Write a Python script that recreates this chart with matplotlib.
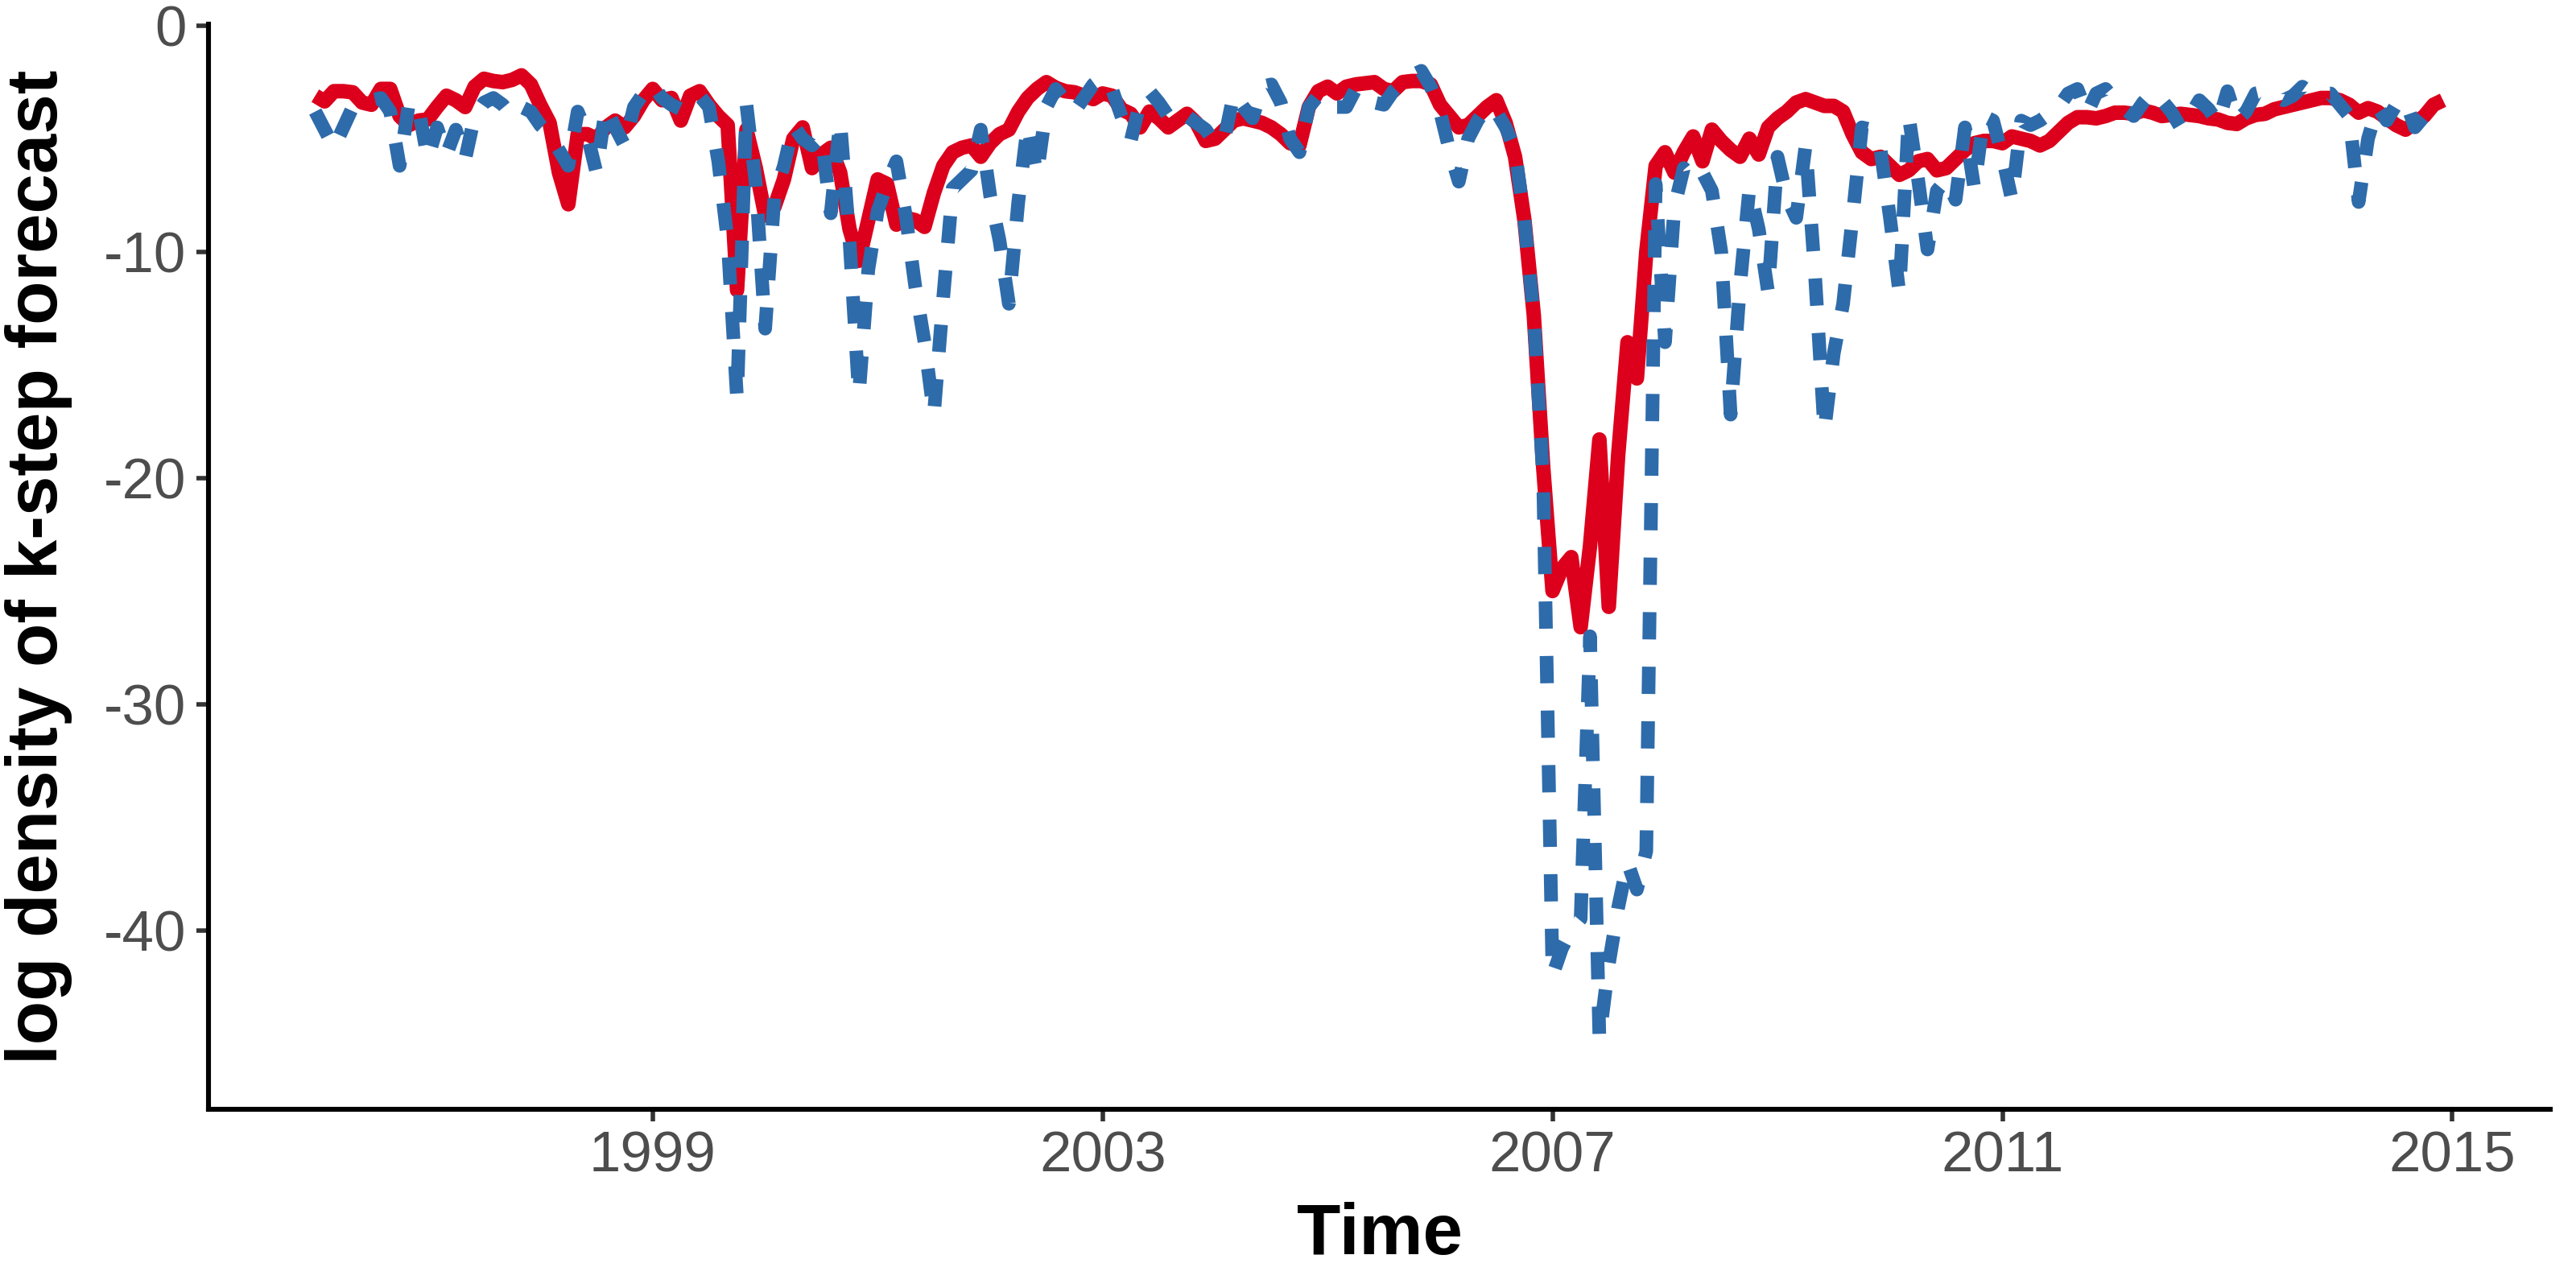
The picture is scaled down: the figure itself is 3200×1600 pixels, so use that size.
#!/usr/bin/env python3
"""
Log density of k-step forecasts over time, two models (solid red vs dashed blue).
Monthly series, Jan 1996 .. Dec 2014, values read off the published figure.
"""

import numpy as np
import matplotlib
matplotlib.use("Agg")
import matplotlib.pyplot as plt
from matplotlib import rcParams

START_YEAR = 1996

# model A (solid red), one value per month
RED = [
    -3.1, -3.35, -2.9, -2.9, -2.95, -3.4, -3.5, -2.8, -2.8, -4.0, -4.4, -4.2,
    -4.15, -3.6, -3.1, -3.3, -3.6, -2.7, -2.35, -2.45, -2.5, -2.4, -2.2, -2.6,
    -3.5, -4.3, -6.5, -7.9, -4.8, -4.8, -5.0, -4.5, -4.2, -4.5, -4.0, -3.3,
    -2.8, -3.3, -3.2, -4.2, -3.1, -2.9, -3.5, -4.0, -4.4, -11.7, -4.6, -6.3,
    -8.4, -8.0, -6.8, -5.0, -4.5, -6.3, -5.7, -5.4, -6.5, -9.0, -10.4, -8.6,
    -6.8, -7.0, -8.8, -8.5, -8.6, -8.9, -7.4, -6.2, -5.6, -5.4, -5.3, -5.8,
    -5.2, -4.8, -4.6, -3.8, -3.2, -2.8, -2.5, -2.75, -2.9, -2.95, -3.1, -3.25,
    -3.0, -3.1, -3.7, -3.9, -4.5, -3.8, -4.1, -4.5, -4.2, -3.9, -4.3, -5.1,
    -5.0, -4.6, -4.2, -4.1, -4.2, -4.3, -4.5, -4.8, -5.2, -5.3, -3.6, -2.9,
    -2.7, -3.0, -2.7, -2.6, -2.55, -2.5, -2.8, -2.9, -2.5, -2.45, -2.45, -2.6,
    -3.5, -4.0, -4.5, -4.4, -4.0, -3.6, -3.3, -4.3, -5.8, -8.6, -12.8, -19.5,
    -25.0, -24.0, -23.5, -26.6, -23.0, -18.3, -25.7, -19.0, -14.0, -15.6, -10.0, -6.2,
    -5.6, -6.5, -5.6, -4.9, -6.0, -4.6, -5.1, -5.5, -5.8, -5.0, -5.7, -4.5,
    -4.1, -3.8, -3.4, -3.25, -3.4, -3.55, -3.55, -3.8, -4.8, -5.6, -5.9, -5.8,
    -6.2, -6.6, -6.4, -6.0, -5.9, -6.4, -6.3, -5.9, -5.5, -5.2, -5.1, -5.1,
    -5.2, -4.9, -5.0, -5.1, -5.3, -5.1, -4.7, -4.3, -4.05, -4.05, -4.1, -4.0,
    -3.85, -3.85, -3.9, -3.75, -3.85, -4.0, -3.95, -3.9, -3.95, -4.0, -4.1, -4.15,
    -4.3, -4.35, -4.1, -3.95, -3.9, -3.7, -3.6, -3.5, -3.4, -3.3, -3.2, -3.2,
    -3.3, -3.5, -3.85, -3.65, -3.8, -4.1, -4.4, -4.6, -4.3, -4.0, -3.5, -3.3,
]

# model B (dashed blue), one value per month
BLUE = [
    -3.8, -4.6, -5.4, -4.5, -3.6, -3.4, -3.3, -3.2, -3.8, -6.2, -3.4, -3.6,
    -5.9, -4.5, -5.7, -4.6, -5.9, -4.0, -3.4, -3.2, -3.5, -4.0, -3.6, -3.8,
    -4.4, -4.8, -5.5, -6.2, -3.8, -4.8, -6.5, -3.6, -4.5, -5.3, -3.6, -3.0,
    -2.6, -3.2, -3.5, -3.7, -3.3, -3.1, -3.6, -6.0, -9.5, -16.5, -3.5, -7.0,
    -13.4, -7.5, -6.2, -4.4, -5.0, -5.3, -4.9, -8.3, -4.2, -9.5, -16.3, -10.8,
    -8.2, -7.0, -6.0, -8.4, -11.5, -14.0, -17.2, -12.0, -7.2, -6.8, -6.4, -4.6,
    -7.5, -9.5, -12.3, -7.8, -4.4, -6.6, -3.6, -2.8, -3.3, -3.8, -3.2, -2.6,
    -2.3, -2.8, -4.0, -5.1, -3.4, -2.9, -3.4, -4.0, -3.7, -4.0, -4.3, -4.6,
    -5.2, -5.0, -3.0, -3.6, -4.1, -2.7, -2.6, -3.4, -5.0, -5.6, -3.6, -3.1,
    -3.1, -3.6, -3.6, -2.8, -3.1, -3.4, -3.5, -2.9, -2.5, -2.2, -2.0, -2.7,
    -3.8, -5.5, -6.9, -5.0, -4.2, -3.6, -3.8, -4.5, -5.5, -8.6, -12.8, -20.0,
    -42.0, -40.8, -40.0, -39.5, -27.0, -44.8, -41.5, -39.0, -37.0, -38.2, -36.5, -7.0,
    -14.0, -8.0, -6.3, -6.8, -6.5, -7.3, -10.0, -17.2, -11.5, -7.2, -9.0, -11.8,
    -5.8, -7.6, -8.5, -5.3, -11.0, -17.9, -14.5, -12.3, -8.5, -4.5, -4.6, -5.5,
    -8.5, -11.8, -4.0, -6.8, -9.9, -7.3, -6.8, -7.7, -4.5, -7.2, -4.0, -4.2,
    -5.8, -7.7, -4.2, -4.4, -4.2, -3.9, -3.6, -3.0, -2.8, -3.9, -3.0, -2.8,
    -3.3, -3.7, -4.0, -3.4, -2.95, -3.3, -3.8, -4.5, -4.0, -3.3, -3.7, -4.3,
    -2.9, -4.2, -3.8, -3.0, -2.9, -3.1, -3.3, -3.1, -2.7, -3.0, -3.0, -3.0,
    -3.5, -4.0, -7.8, -5.0, -3.6, -4.2, -3.5, -3.3, -4.5, -4.0, -3.5, -3.3,
]

X_TICKS = [1999, 2003, 2007, 2011, 2015]
Y_TICKS = [0, -10, -20, -30, -40]

COLOR_RED = "#DC001C"
COLOR_BLUE = "#2E6BAA"
COLOR_TICKLABEL = "#4D4D4D"
COLOR_TICK = "#333333"


def setup_style():
    rcParams.update({
        "font.family": ["Liberation Sans", "DejaVu Sans"],
        "axes.unicode_minus": False,
        "axes.linewidth": 2.2,
        "xtick.major.width": 2.0,
        "ytick.major.width": 2.0,
        "xtick.major.size": 5.4,
        "ytick.major.size": 5.4,
        "xtick.major.pad": 4.3,
        "ytick.major.pad": 4.5,
    })


def main():
    setup_style()

    t = START_YEAR + np.arange(len(RED)) / 12.0

    fig = plt.figure(figsize=(16, 8), dpi=200)
    ax = fig.add_axes([0.0809, 0.139, 0.9091, 0.842])

    ax.plot(t, RED, color=COLOR_RED, linewidth=6.5,
            solid_capstyle="butt", solid_joinstyle="round", zorder=3)
    ax.plot(t, BLUE, color=COLOR_BLUE, linewidth=6.1,
            linestyle=(0, (2.0, 2.0)), dash_capstyle="butt",
            dash_joinstyle="round", zorder=4)

    ax.set_xlim(1995.05, 2015.87)
    ax.set_ylim(-47.9, 0.05)
    ax.set_xticks(X_TICKS)
    ax.set_yticks(Y_TICKS)
    ax.tick_params(colors=COLOR_TICK, labelcolor=COLOR_TICKLABEL,
                   labelsize=25.5)

    ax.set_xlabel("Time", fontsize=32, fontweight="bold", labelpad=8)
    ax.set_ylabel("log density of k-step forecast", fontsize=32,
                  fontweight="bold", labelpad=14)

    for side in ("top", "right"):
        ax.spines[side].set_visible(False)
    for side in ("left", "bottom"):
        ax.spines[side].set_color("black")

    fig.savefig("out.png", dpi=200, facecolor="white")
    plt.close(fig)


if __name__ == "__main__":
    main()
